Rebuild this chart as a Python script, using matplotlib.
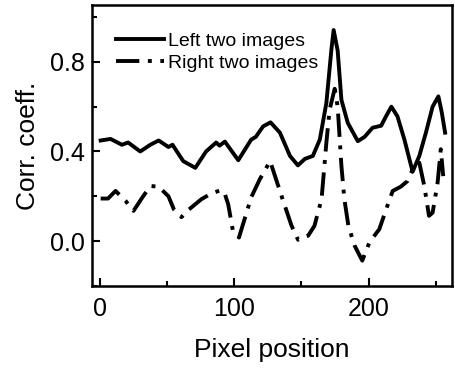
import matplotlib

matplotlib.use("Agg")
import matplotlib.pyplot as plt
from matplotlib.ticker import MultipleLocator

# values
LEFT_X = [0.5, 7.9, 16.3, 21, 30, 37.5, 43.7, 51, 54, 62, 71, 79, 86.5, 89, 93,
          103, 112.6, 116, 121.5, 127, 134, 141.5, 147.4, 152.6, 158.5, 163.7,
          168.6, 172.3, 174, 177, 179.8, 184.5, 192, 197, 203, 209.4, 213, 217,
          221.5, 226.7, 232.8, 237.8, 242.7, 247.7, 252, 254.5, 257]
LEFT_Y = [0.449, 0.456, 0.43, 0.44, 0.40, 0.43, 0.449, 0.42, 0.43, 0.357, 0.327,
          0.40, 0.44, 0.426, 0.444, 0.361, 0.453, 0.465, 0.512, 0.53, 0.484, 0.38,
          0.338, 0.367, 0.38, 0.453, 0.617, 0.853, 0.942, 0.85, 0.63, 0.528, 0.446,
          0.465, 0.506, 0.515, 0.557, 0.60, 0.557, 0.453, 0.31, 0.38, 0.484, 0.60,
          0.646, 0.575, 0.484]

RIGHT_X = [0.5, 6, 11.6, 19, 25, 31, 37.5, 43.7, 51, 55, 60.7, 65, 75.5, 83, 90.4,
           93, 95.5, 99, 103.5, 112.6, 119, 126.7, 136, 142.7, 147.5, 155, 159.7,
           165, 168.6, 171, 174.8, 177, 179.8, 182, 185, 189.6, 195.3, 200.7, 208,
           214, 218, 224, 229, 232.8, 237.8, 241.5, 245, 247.7, 251.4, 253.8, 255.6]
RIGHT_Y = [0.19, 0.19, 0.224, 0.18, 0.135, 0.19, 0.246, 0.243, 0.20, 0.142, 0.107,
           0.135, 0.187, 0.213, 0.228, 0.21, 0.164, 0.046, 0.016, 0.195, 0.276,
           0.357, 0.187, 0.068, 0.006, 0.024, 0.068, 0.187, 0.44, 0.587, 0.68, 0.6,
           0.335, 0.187, 0.068, -0.02, -0.087, -0.005, 0.053, 0.157, 0.224, 0.243,
           0.268, 0.32, 0.35, 0.246, 0.113, 0.127, 0.26, 0.41, 0.29]

LABELS = ["Left two images", "Right two images"]

plt.rcParams["font.family"] = ["Liberation Sans", "DejaVu Sans"]

fig = plt.figure(figsize=(4.55, 3.68), dpi=100)
ax = fig.add_axes([0.202, 0.223, 0.791, 0.763])

ax.plot(LEFT_X, LEFT_Y, color="black", linewidth=2.8, label=LABELS[0])
ax.plot(RIGHT_X, RIGHT_Y, color="black", linewidth=2.8,
        linestyle=(0, (6, 2.2, 1, 2.2)), label=LABELS[1])

ax.set_xlim(-6, 262)
ax.set_ylim(-0.2, 1.053)
ax.xaxis.set_major_locator(MultipleLocator(100))
ax.xaxis.set_minor_locator(MultipleLocator(50))
ax.yaxis.set_major_locator(MultipleLocator(0.4))
ax.yaxis.set_minor_locator(MultipleLocator(0.2))
ax.yaxis.set_major_formatter(plt.FormatStrFormatter("%.1f"))

ax.tick_params(which="both", direction="in", width=1.5, labelsize=18)
ax.tick_params(which="major", length=6)
ax.tick_params(which="minor", length=3.5)
ax.tick_params(axis="x", pad=8)
ax.tick_params(axis="y", pad=5)
for spine in ax.spines.values():
    spine.set_linewidth(1.8)

ax.set_xlabel("Pixel position", fontsize=19, labelpad=12)
ax.set_ylabel("Corr. coeff.", fontsize=19, labelpad=7)

ax.legend(loc="upper left", bbox_to_anchor=(0.045, 0.93), frameon=False,
          fontsize=14, handlelength=2.5, handletextpad=0.2, labelspacing=0.2,
          borderaxespad=0.0)

fig.savefig("out.png", dpi=100)
